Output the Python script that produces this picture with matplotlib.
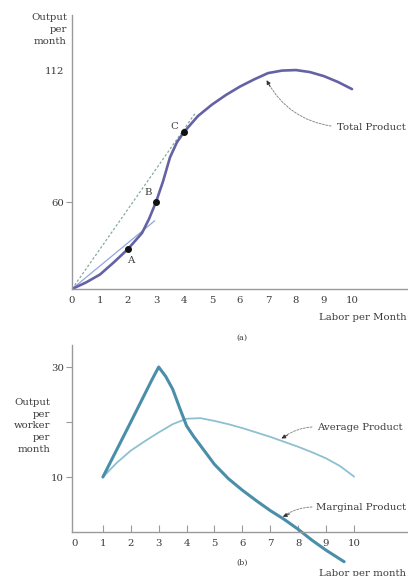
import numpy as np
import matplotlib
matplotlib.use("Agg")
import matplotlib.pyplot as plt

# ---- data -------------------------------------------------------------
labor_tp = [0, 0.5, 1, 1.5, 2, 2.5, 2.75, 3, 3.25, 3.5, 3.75, 4, 4.5, 5, 5.5,
            6, 6.5, 7, 7.5, 8, 8.5, 9, 9.5, 10]
total_product = [0, 4.5, 10, 18.5, 27.6, 38.6, 48.3, 60, 68.1, 77.6, 83.6, 87.6, 93.9,
                 98.4, 102.2, 105.5, 108.3, 110.8, 111.8, 112, 111.2, 109.6, 107.3, 104.5]

points_labor = [2, 3, 4]
points_output = [27.6, 60, 87.6]
points_names = ["A", "B", "C"]

ray_c_labor = [0, 4.4]
ray_c_output = [0, 95]
ray_a_labor = [0, 2.95]
ray_a_output = [0, 47]

labor_ap = [1, 1.5, 2, 2.5, 3, 3.5, 4, 4.5, 5, 5.5, 6, 6.5, 7, 7.5, 8, 8.5, 9, 9.5, 10]
average_product = [10, 12.6, 14.8, 16.5, 18.1, 19.6, 20.6, 20.7, 20.2, 19.6, 18.9, 18.1,
                   17.3, 16.4, 15.5, 14.5, 13.4, 12.0, 10.1]

labor_mp = [1, 2, 2.75, 3, 3.25, 3.5, 3.75, 4, 4.25, 4.5, 5, 5.5, 6, 6.5, 7, 7.5, 8,
            8.5, 9, 9.65]
marginal_product = [10, 20, 27.6, 30, 28.3, 26.0, 22.6, 19.3, 17.4, 15.7, 12.3, 9.7,
                    7.6, 5.7, 3.9, 2.3, 0.5, -1.5, -3.3, -5.4]

top_yticks = [60, 112]
bottom_yticks = [10, 20, 30]
bottom_ylabels = ["10", "", "30"]
xticks = list(range(0, 11))

# ---- style ------------------------------------------------------------
FONT = "DejaVu Serif"
FS = 7.3
TXT = "#3a3a3a"
AXC = "#9a9a9a"
TP_COLOR = "#6462a4"
MP_COLOR = "#4a8eaa"
AP_COLOR = "#8ec0d0"
plt.rcParams["font.family"] = [FONT]
plt.rcParams["font.size"] = FS

W, H = 408, 576
fig = plt.figure(figsize=(W / 100, H / 100), dpi=100)


def fx(px):
    return px / W


def fy(py):
    return 1 - py / H


# the output axis is drawn with unequal bands: 0-60 is compressed
LOW_SPAN, HIGH_SPAN = 87.0, 132.0


def _fwd(v):
    v = np.asarray(v, dtype=float)
    return np.where(v <= 60, v * LOW_SPAN / 60, LOW_SPAN + (v - 60) * HIGH_SPAN / 52)


def _inv(p):
    p = np.asarray(p, dtype=float)
    return np.where(p <= LOW_SPAN, p * 60 / LOW_SPAN, 60 + (p - LOW_SPAN) * 52 / HIGH_SPAN)


# ---- panel (a) --------------------------------------------------------
ax1 = fig.add_axes([fx(72), fy(289), fx(336), 274 / H])
ax1.set_yscale("function", functions=(_fwd, _inv))
ax1.set_xlim(0, 12)
ax1.set_ylim(0, 133.7)

ax1.plot(ray_c_labor, ray_c_output, color="#86aa9e", lw=0.9, ls=(0, (2, 1.6)))
ax1.plot(ray_a_labor, ray_a_output, color="#8ea8dc", lw=0.9)
ax1.plot(labor_tp, total_product, color=TP_COLOR, lw=1.9, solid_capstyle="round",
         solid_joinstyle="round")
ax1.scatter(points_labor, points_output, s=16, color="#111111", zorder=5)
offsets = {"A": (2, -8), "B": (-6, 7), "C": (-7, 4)}
for lx, ly, nm in zip(points_labor, points_output, points_names):
    ax1.annotate(nm, (lx, ly), xytext=offsets[nm], textcoords="offset points",
                 ha="center", va="center", color=TXT, fontsize=FS)

for s in ["top", "right"]:
    ax1.spines[s].set_visible(False)
for s in ["left", "bottom"]:
    ax1.spines[s].set_color(AXC)
    ax1.spines[s].set_linewidth(1.0)

ax1.set_xticks(xticks)
ax1.set_xticklabels([str(t) for t in xticks])
ax1.tick_params(axis="x", length=0, pad=5, labelcolor=TXT, labelsize=FS)
ax1.set_yticks(top_yticks)
ax1.set_yticklabels([str(t) for t in top_yticks])
ax1.yaxis.set_minor_locator(plt.NullLocator())
ax1.tick_params(axis="y", length=4, width=0.8, color=AXC, pad=2, labelcolor=TXT, labelsize=FS)
ax1.yaxis.get_major_ticks()[1].tick1line.set_visible(False)

# Total Product callout
ax1.annotate("", xy=(6.95, 108), xytext=(331, H - 126), textcoords="figure pixels",
             arrowprops=dict(arrowstyle="-", color="#8a8a8a", lw=0.7, ls=(0, (2, 1.5)),
                             connectionstyle="arc3,rad=-0.25", shrinkA=0, shrinkB=2))
ax1.annotate("", xy=(6.95, 108), xytext=(2.5, -4.5), textcoords="offset points",
             arrowprops=dict(arrowstyle="-|>", color="#333333", lw=0.6,
                             mutation_scale=6, shrinkA=0, shrinkB=0))
fig.text(fx(337), fy(127), "Total Product", ha="left", va="center", color=TXT, fontsize=FS)

fig.text(fx(67), fy(13), "Output\nper\nmonth", ha="right", va="top",
         multialignment="right", linespacing=1.45, color=TXT, fontsize=FS)
fig.text(fx(319), fy(318), "Labor per Month", ha="left", va="center", color=TXT, fontsize=FS)
fig.text(fx(242), fy(338), "(a)", ha="center", va="center", color=TXT, fontsize=FS - 1.5)

# ---- panel (b) --------------------------------------------------------
ax2 = fig.add_axes([fx(72), fy(566), fx(336), 221 / H])
ax2.set_xlim(-0.108, 11.94)
ax2.set_ylim(-6.18, 34)

ax2.plot(labor_ap, average_product, color=AP_COLOR, lw=1.3, solid_joinstyle="round")
ax2.plot(labor_mp, marginal_product, color=MP_COLOR, lw=2.2, solid_joinstyle="round",
         solid_capstyle="round")

for s in ["top", "right"]:
    ax2.spines[s].set_visible(False)
for s in ["left", "bottom"]:
    ax2.spines[s].set_color(AXC)
    ax2.spines[s].set_linewidth(1.0)
ax2.spines["bottom"].set_position(("data", 0))
ax2.spines["left"].set_bounds(0, 34)

ax2.set_xticks(xticks)
ax2.set_xticklabels([str(t) for t in xticks])
ax2.tick_params(axis="x", direction="in", length=5, width=0.8, color=AXC, pad=5,
                labelcolor=TXT, labelsize=FS)
ax2.xaxis.get_major_ticks()[0].tick1line.set_visible(False)
ax2.set_yticks(bottom_yticks)
ax2.set_yticklabels(bottom_ylabels)
ax2.tick_params(axis="y", length=4, width=0.8, color=AXC, pad=2, labelcolor=TXT, labelsize=FS)

# Average / Marginal Product callouts
ax2.annotate("", xy=(7.4, 17.0), xytext=(312, H - 427), textcoords="figure pixels",
             arrowprops=dict(arrowstyle="-", color="#8a8a8a", lw=0.7, ls=(0, (2, 1.5)),
                             connectionstyle="arc3,rad=0.15", shrinkA=0, shrinkB=2))
ax2.annotate("", xy=(7.4, 17.0), xytext=(4.5, 2.5), textcoords="offset points",
             arrowprops=dict(arrowstyle="-|>", color="#333333", lw=0.6,
                             mutation_scale=6, shrinkA=0, shrinkB=0))
fig.text(fx(317), fy(427), "Average Product", ha="left", va="center", color=TXT, fontsize=FS)

ax2.annotate("", xy=(7.45, 2.8), xytext=(312, H - 507), textcoords="figure pixels",
             arrowprops=dict(arrowstyle="-", color="#8a8a8a", lw=0.7, ls=(0, (2, 1.5)),
                             connectionstyle="arc3,rad=0.15", shrinkA=0, shrinkB=2))
ax2.annotate("", xy=(7.45, 2.8), xytext=(5, 2), textcoords="offset points",
             arrowprops=dict(arrowstyle="-|>", color="#333333", lw=0.6,
                             mutation_scale=6, shrinkA=0, shrinkB=0))
fig.text(fx(316), fy(507), "Marginal Product", ha="left", va="center", color=TXT, fontsize=FS)

fig.text(fx(50), fy(426), "Output\nper\nworker\nper\nmonth", ha="right", va="center",
         multialignment="right", linespacing=1.4, color=TXT, fontsize=FS)
fig.text(fx(242), fy(563), "(b)", ha="center", va="center", color=TXT, fontsize=FS - 1.5)
fig.text(fx(319), fy(573), "Labor per month", ha="left", va="center", color=TXT, fontsize=FS)

fig.savefig("out.png", dpi=100)
